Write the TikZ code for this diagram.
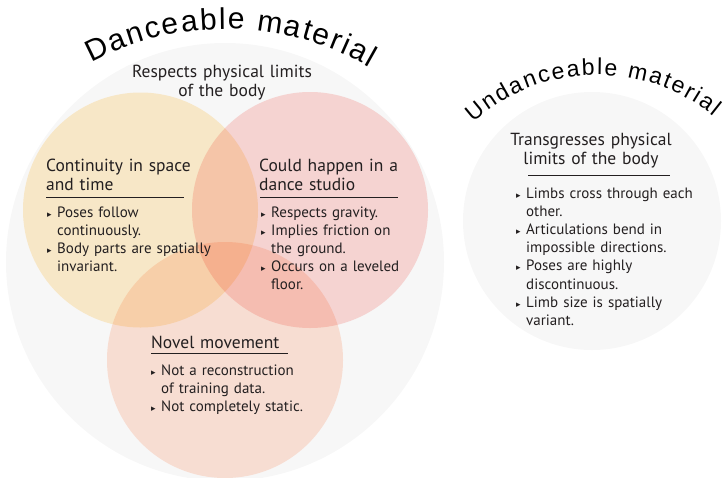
\documentclass[tikz,border=0pt]{standalone}
\usepackage{fontspec}
\setmainfont{PT Sans}
\newfontfamily\curvefont{Liberation Sans}
\newfontfamily\symfont{DejaVu Sans}
\usetikzlibrary{decorations.text}
\definecolor{bggray}{RGB}{247,247,247}
\definecolor{contyellow}{RGB}{255,239,206}
\definecolor{studiored}{RGB}{253,218,216}
\definecolor{novelorange}{RGB}{255,229,217}
\definecolor{inkgray}{RGB}{35,31,32}
\newcommand{\bul}{\makebox[10pt][l]{\fontsize{9}{9}\symfont\char"25B8}}
\newcommand{\ind}{\hspace*{10pt}}

\begin{document}
\begin{tikzpicture}[x=1pt,y=-1pt,
                every node/.style={inner sep=0pt,text=inkgray},
                heading/.style={anchor=base west,text width=180pt,align=left,
                  font=\fontsize{17.5}{19}\selectfont},
                itemlist/.style={anchor=base west,text width=200pt,align=left,
                  font=\fontsize{15}{18.2}\selectfont},
                rule/.style={draw=inkgray,line width=0.8pt}]
             \useasboundingbox (0,0) rectangle (727,477);
             \fill[bggray] (225,262) circle[radius=219];
             \fill[bggray] (592,221) circle[radius=129];
             \begin{scope}[blend mode=multiply]
                \fill[contyellow] (140.5,210) circle[radius=117.5];
                \fill[studiored] (310,210) circle[radius=118];
                \fill[novelorange] (225,360) circle[radius=118];
             \end{scope}
             \path[decorate,decoration={text along path,text align=fit to path,
                text={|\curvefont\fontsize{30}{30}\selectfont|Danceable material}}]
                (226,316) ++(-118:287) arc[start angle=-118,end angle=-60,radius=287];
             \path[decorate,decoration={text along path,text align=fit to path,
                text={|\curvefont\fontsize{23}{23}\selectfont|Undanceable material}}]
                (597,260) ++(-132:185) arc[start angle=-132,end angle=-51,radius=185];
             \node[heading,anchor=base,align=center] (limits) at (222,77)
                {Respects physical limits\\of the body};
             \node[heading] (conthead) at (46,171) {Continuity in space\\and time};
             \draw[rule] (46,197) -- (184,197);
             \node[itemlist] (contlist) at (47,217)
                {\bul Poses follow\\\ind continuously.\\\bul Body parts are spatially\\\ind invariant.};
             \node[heading] (studiohead) at (259,171) {Could happen in a\\dance studio};
             \draw[rule] (260,197) -- (398,197);
             \node[itemlist] (studiolist) at (261,217)
                {\bul Respects gravity.\\\bul Implies friction on\\\ind the ground.\\\bul Occurs on a leveled\\\ind floor.};
             \node[heading] (novelhead) at (151,348) {Novel movement};
             \draw[rule] (151,353) -- (288,353);
             \node[itemlist] (novellist) at (151,375)
                {\bul Not a reconstruction\\\ind of training data.\\\bul Not completely static.};
             \node[heading,anchor=base,align=center] (transhead) at (591,145)
                {Transgresses physical\\limits of the body};
             \draw[rule] (528,175) -- (670,175);
             \node[itemlist] (translist) at (516,198)
                {\bul Limbs cross through each\\\ind other.\\\bul Articulations bend in\\\ind impossible directions.\\\bul Poses are highly\\\ind discontinuous.\\\bul Limb size is spatially\\\ind variant.};
             \end{tikzpicture}
\end{document}
